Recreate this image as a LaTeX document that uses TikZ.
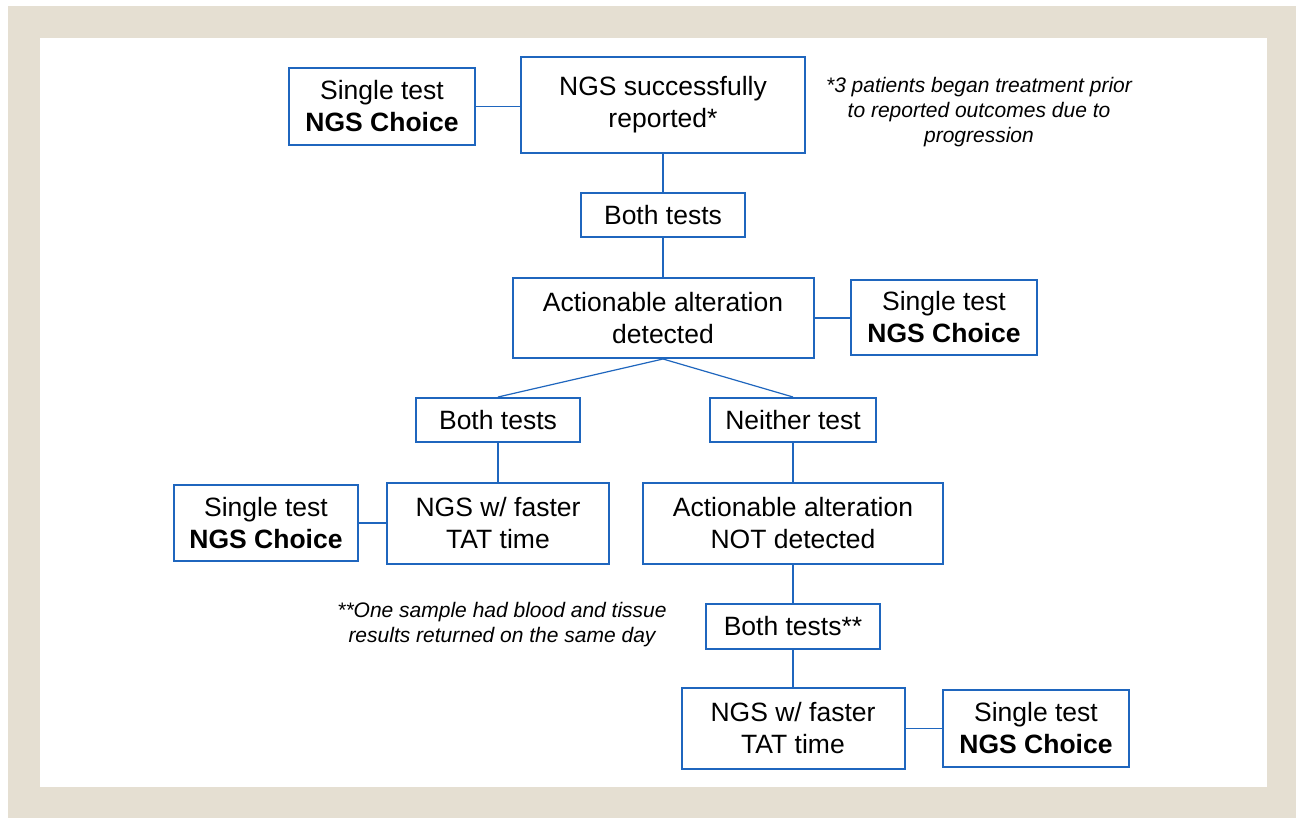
\documentclass[tikz,border=0pt]{standalone}
\usepackage{fontspec}
\setmainfont{Liberation Sans}
\definecolor{frame}{RGB}{229,223,210}
\definecolor{boxblue}{RGB}{31,102,190}
\begin{document}
\begin{tikzpicture}[x=1pt,y=-1pt,
  fbox/.style={draw=boxblue,line width=2pt,fill=white,inner sep=0pt,align=center,
    font=\fontsize{26.5}{32}\selectfont,text=black},
  conn/.style={draw=boxblue,line width=1.2pt},
  note/.style={align=center,font=\fontsize{21}{25}\selectfont\itshape,text=black}]
\useasboundingbox (0,0) rectangle (1296,818);
\fill[white] (0,0) rectangle (1296,818);
\fill[frame] (8,6) rectangle (1296,818);
\fill[white] (40,38) rectangle (1267,787);

\node[fbox,minimum width=186pt,minimum height=77pt] (s1) at (382,106.5) {Single test\\\textbf{NGS Choice}};
\node[fbox,minimum width=284pt,minimum height=96pt] (ngs) at (663,105) {NGS successfully\\reported*};
\node[fbox,minimum width=164pt,minimum height=44pt] (b1) at (663,215) {Both tests};
\node[fbox,minimum width=301pt,minimum height=80pt] (aad) at (663,318) {Actionable alteration\\detected};
\node[fbox,minimum width=186pt,minimum height=75pt] (s2) at (944,317.5) {Single test\\\textbf{NGS Choice}};
\node[fbox,minimum width=164pt,minimum height=44pt] (b2) at (498,420) {Both tests};
\node[fbox,minimum width=166pt,minimum height=44pt] (nt) at (793,420) {Neither test};
\node[fbox,minimum width=184pt,minimum height=76pt] (s3) at (266,523) {Single test\\\textbf{NGS Choice}};
\node[fbox,minimum width=222pt,minimum height=81pt] (f1) at (498,523.5) {NGS w/ faster\\TAT time};
\node[fbox,minimum width=300pt,minimum height=81pt] (nd) at (793,523.5) {Actionable alteration\\NOT detected};
\node[fbox,minimum width=174pt,minimum height=45pt] (b3) at (793,626.5) {Both tests**};
\node[fbox,minimum width=223pt,minimum height=81pt] (f2) at (793,728.5) {NGS w/ faster\\TAT time};
\node[fbox,minimum width=186pt,minimum height=77pt] (s4) at (1036,728.5) {Single test\\\textbf{NGS Choice}};

\node[note] (n1) at (979,112) {*3 patients began treatment prior\\to reported outcomes due to\\progression};
\node[note] (n2) at (502,625) {**One sample had blood and tissue\\results returned on the same day};

\draw[conn] (s1.east) -- (s1.east -| ngs.west);
\draw[conn] (ngs.south) -- (b1.north);
\draw[conn] (b1.south) -- (aad.north);
\draw[conn] (aad.east) -- (aad.east -| s2.west);
\draw[conn] (aad.south) -- (b2.north);
\draw[conn] (aad.south) -- (nt.north);
\draw[conn] (b2.south) -- (f1.north);
\draw[conn] (s3.east) -- (s3.east -| f1.west);
\draw[conn] (nt.south) -- (nd.north);
\draw[conn] (nd.south) -- (b3.north);
\draw[conn] (b3.south) -- (f2.north);
\draw[conn] (f2.east) -- (f2.east -| s4.west);
\end{tikzpicture}
\end{document}
